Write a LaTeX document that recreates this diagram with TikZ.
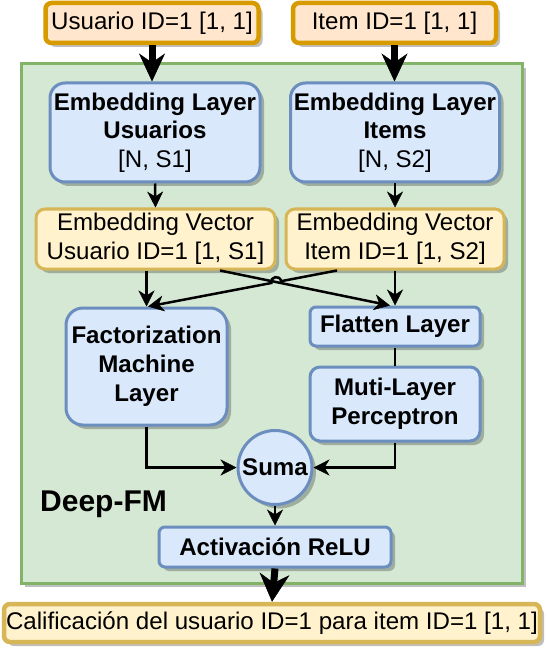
\documentclass[tikz,border=0pt]{standalone}
\usepackage{fontspec}
\setmainfont{Liberation Sans}
\usetikzlibrary{arrows.meta,shadows,calc}
\definecolor{orF}{HTML}{FFE6CC}
\definecolor{orD}{HTML}{D79B00}
\definecolor{yeF}{HTML}{FFF2CC}
\definecolor{yeD}{HTML}{D6B656}
\definecolor{blF}{HTML}{DAE8FC}
\definecolor{blD}{HTML}{6C8EBF}
\definecolor{grF}{HTML}{D5E8D4}
\definecolor{grD}{HTML}{82B366}
\begin{document}
\begin{tikzpicture}[x=1pt,y=-1pt,
  shadowed/.style={drop shadow={shadow xshift=4pt,shadow yshift=-4pt,fill=black,opacity=0.25}},
  txt/.style={font=\fontsize{24.1}{28.5}\selectfont,align=center,inner sep=0pt},
  bftxt/.style={font=\fontsize{24.1}{28.5}\selectfont\bfseries},
  inbox/.style={txt,fill=orF,draw=orD,line width=4.5pt,rounded corners=6pt,shadowed},
  outbox/.style={txt,fill=yeF,draw=yeD,line width=4.5pt,rounded corners=6pt,shadowed},
  vecbox/.style={txt,fill=yeF,draw=yeD,line width=3pt,rounded corners=9pt,shadowed},
  layer/.style={txt,fill=blF,draw=blD,line width=3pt,shadowed},
  thickarrow/.style={line width=7pt,-{Stealth[length=28pt,width=#1,inset=9pt,line width=0.5pt]}},
  thinarrow/.style={line width=2.5pt,-{Stealth[length=16pt,width=16pt,inset=5pt,line width=0.5pt]}},
  plainline/.style={line width=2.5pt}
]
\fill[white] (0,0) rectangle (546,652);
\useasboundingbox (0,0) rectangle (546,652);

% container
\node[fill=grF,draw=grD,line width=3pt,minimum width=501pt,minimum height=519pt,inner sep=0pt,shadowed] (deepfm) at (271.5,323.5) {};
\node[font=\fontsize{30}{34}\selectfont\bfseries,inner sep=0pt] (deeplbl) at (103.5,504) {Deep-FM};

% inputs
\node[inbox,minimum width=213pt,minimum height=40pt] (inU) at (152,23) {Usuario ID=1 [1, 1]};
\node[inbox,minimum width=203pt,minimum height=40pt] (inI) at (394.5,23) {Item ID=1 [1, 1]};

% embedding layers
\node[layer,rounded corners=15pt,minimum width=210pt,minimum height=99pt] (elU) at (155,132.5)
  {\textbf{Embedding Layer}\\\textbf{Usuarios}\\{[N, S1]}};
\node[layer,rounded corners=15pt,minimum width=209pt,minimum height=99pt] (elI) at (395,132.5)
  {\textbf{Embedding Layer}\\\textbf{Items}\\{[N, S2]}};

% embedding vectors
\node[vecbox,minimum width=239pt,minimum height=60pt] (evU) at (155.5,239)
  {Embedding Vector\\Usuario ID=1 [1, S1]};
\node[vecbox,minimum width=218pt,minimum height=60pt] (evI) at (395,239)
  {Embedding Vector\\Item ID=1 [1, S2]};

% FM, flatten, MLP
\node[layer,bftxt,rounded corners=17pt,minimum width=161pt,minimum height=117pt,font=\fontsize{24.1}{29}\selectfont\bfseries] (fm) at (146.5,366.5)
  {Factorization\\Machine\\Layer};
\node[layer,bftxt,rounded corners=6pt,minimum width=170pt,minimum height=39pt] (fl) at (395,326.5)
  {Flatten Layer};
\node[layer,bftxt,rounded corners=10pt,minimum width=170pt,minimum height=74pt] (mlp) at (395,404)
  {Muti-Layer\\Perceptron};

% suma
\node[layer,bftxt,circle,minimum size=74pt] (suma) at (275,467.5) {Suma};

% relu
\node[layer,bftxt,rounded corners=6pt,minimum width=232pt,minimum height=40pt] (relu) at (275,547)
  {Activación ReLU};

% output
\node[outbox,minimum width=536pt,minimum height=38pt] (out) at (272,623)
  {Calificación del usuario ID=1 para item ID=1 [1, 1]};

% connectors
\draw[thickarrow=26pt] (inU.south) -- (inU.south |- elU.north);
\draw[thickarrow=26pt] (inI.south) -- (inI.south |- elI.north);
\draw[thinarrow] (elU.south) -- (evU.north);
\draw[thinarrow] (elI.south) -- (evI.north);
\draw[thinarrow] (evU.south -| fm.north) -- (fm.north);
\coordinate (a1) at ($(evU.south)+(64.5,0)$);
\coordinate (a2) at ($(fl.north)+(-5,0)$);
\draw[thinarrow] (a1) -- (a2);
\coordinate (b1) at ($(evI.south)+(-58,0)$);
\coordinate (b2) at ($(fm.north)+(1.5,0)$);
\coordinate (hR) at (281.1,281.2);
\coordinate (hL) at (271.3,283.0);
\draw[thinarrow] (b1) -- (hR) .. controls +(-1.25,-6.6) and +(-1.25,-6.6) .. (hL) -- (b2);
\draw[thinarrow] (evI.south) -- (fl.north);
\draw[plainline] (fl.south) -- (mlp.north);
\draw[thinarrow] (fm.south) |- (suma.west);
\draw[thinarrow] (mlp.south) |- (suma.east);
\draw[thinarrow] (suma.south) -- (relu.north);
\draw[thickarrow=30pt] (relu.south) -- (out.north);
\end{tikzpicture}
\end{document}
